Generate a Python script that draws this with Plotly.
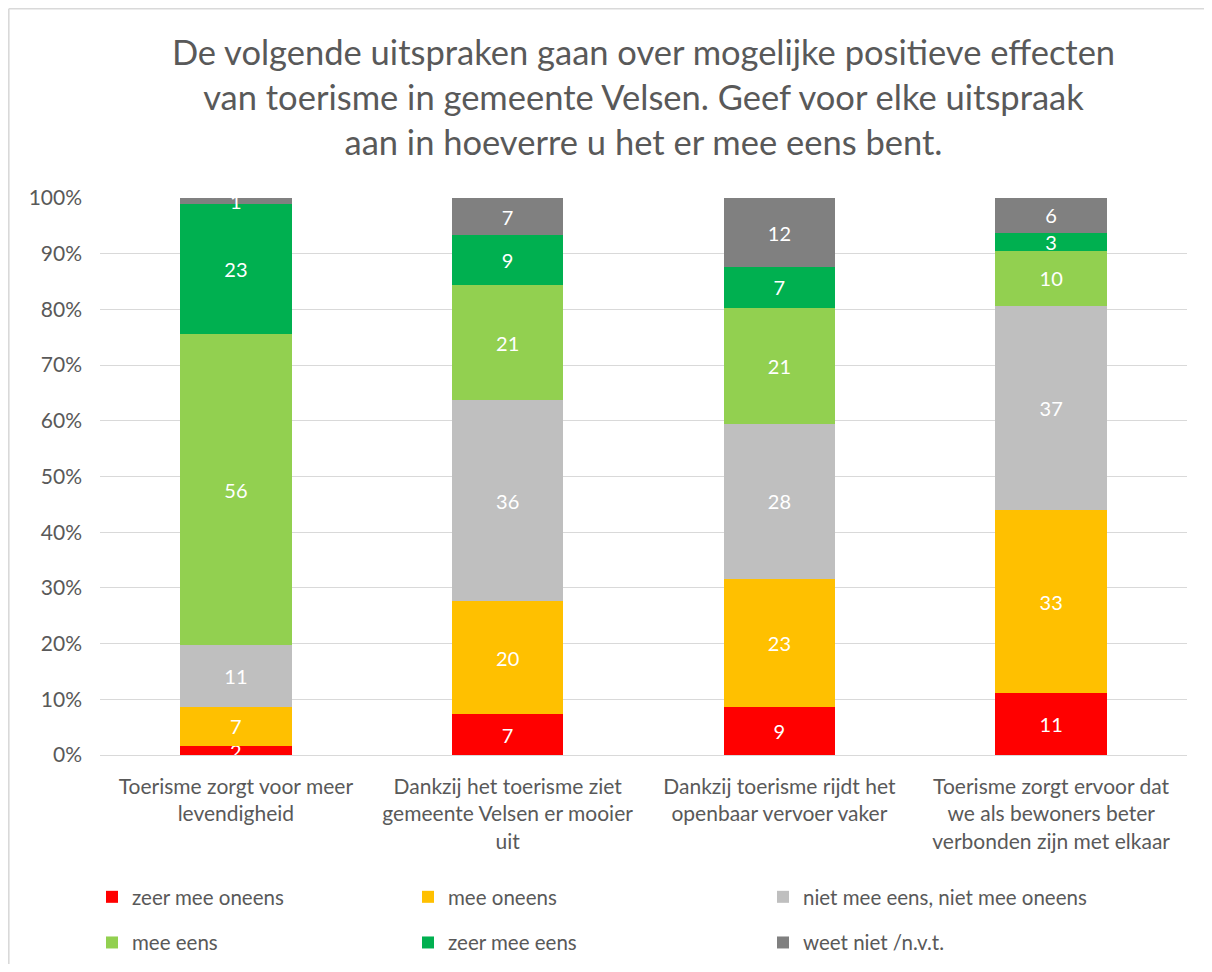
import plotly.graph_objects as go

categories = [
    "Toerisme zorgt voor meer<br>levendigheid",
    "Dankzij het toerisme ziet<br>gemeente Velsen er mooier<br>uit",
    "Dankzij toerisme rijdt het<br>openbaar vervoer vaker",
    "Toerisme zorgt ervoor dat<br>we als bewoners beter<br>verbonden zijn met elkaar",
]

series_names = [
    "zeer mee oneens",
    "mee oneens",
    "niet mee eens, niet mee oneens",
    "mee eens",
    "zeer mee eens",
    "weet niet /n.v.t.",
]

zeer_mee_oneens = [1.6, 7.3, 8.6, 11.1]
mee_oneens = [7.1, 20.3, 23.0, 32.8]
neutraal = [11.0, 36.1, 27.9, 36.7]
mee_eens = [55.9, 20.6, 20.8, 9.9]
zeer_mee_eens = [23.4, 9.0, 7.3, 3.3]
weet_niet = [1.0, 6.7, 12.4, 6.2]

values = [zeer_mee_oneens, mee_oneens, neutraal, mee_eens, zeer_mee_eens, weet_niet]
colors = ["#FF0000", "#FFC000", "#BFBFBF", "#92D050", "#00B050", "#808080"]
legend_ids = ["legend", "legend2", "legend3", "legend", "legend2", "legend3"]

FONT = "Lato"
TXT = "#595959"

fig = go.Figure()
for i, (name, vals, col) in enumerate(zip(series_names, values, colors)):
    fig.add_trace(go.Bar(
        x=categories, y=vals, name=name,
        marker=dict(color=col, line=dict(width=0)),
        texttemplate="%{y:.0f}", textposition="inside",
        insidetextanchor="middle", textangle=0,
        textfont=dict(color="white", size=20, family=FONT),
        legend=legend_ids[i], legendgroup=name,
        hoverinfo="skip",
    ))

# figure is placed at an 8px body offset in the page; keep it inside the viewport
W, H = 1196, 956
L, R, T, B = 92, 17, 190, 209
pw, ph = W - L - R, H - T - B

def px(x):
    return (x - L) / pw

def py(y):
    return (H - B - y) / ph

legend_common = dict(
    orientation="v", xanchor="left", yanchor="top",
    xref="container", yref="container",
    font=dict(family=FONT, size=20.5, color=TXT),
    bgcolor="rgba(0,0,0,0)", tracegroupgap=16, itemwidth=30,
    traceorder="grouped",
)

LEG_TOP = 1 - 869 / H
border = dict(color="#D9D9D9", width=1.6)

fig.update_layout(
    width=W, height=H,
    margin=dict(l=L, r=R, t=T, b=B, autoexpand=False),
    paper_bgcolor="white", plot_bgcolor="white",
    barmode="stack", bargap=0.59,
    uniformtext=dict(minsize=20, mode="show"),
    title=dict(
        text="De volgende uitspraken gaan over mogelijke positieve effecten<br>van toerisme in gemeente Velsen. Geef voor elke uitspraak<br>aan in hoeverre u het er mee eens bent.",
        x=0.5, xref="paper", xanchor="center",
        y=1 - 57 / H, yanchor="middle", yref="container",
        font=dict(family=FONT, size=34.5, color=TXT),
    ),
    font=dict(family=FONT, color=TXT),
    xaxis=dict(
        tickfont=dict(family=FONT, size=21, color=TXT),
        ticklabelstandoff=17,
        showline=False, ticks="", showgrid=False,
    ),
    yaxis=dict(
        range=[0, 100], tickvals=[0, 10, 20, 30, 40, 50, 60, 70, 80, 90, 100],
        ticktext=[f"{v}%" for v in range(0, 101, 10)],
        tickfont=dict(family=FONT, size=21, color=TXT),
        ticklabelstandoff=17,
        showgrid=True, gridcolor="#D9D9D9", gridwidth=1.3,
        zeroline=True, zerolinecolor="#D9D9D9", zerolinewidth=1.3,
        showline=False, ticks="", ticklen=0,
    ),
    legend=dict(legend_common, x=84 / W, y=LEG_TOP),
    legend2=dict(legend_common, x=400 / W, y=LEG_TOP),
    legend3=dict(legend_common, x=755 / W, y=LEG_TOP),
    showlegend=True,
    shapes=[
        dict(type="line", xref="paper", yref="paper",
             x0=px(0.8), x1=px(0.8), y0=py(H + 5), y1=py(0.8),
             line=border, layer="below"),
        dict(type="line", xref="paper", yref="paper",
             x0=px(0.8), x1=px(W + 5), y0=py(0.8), y1=py(0.8),
             line=border, layer="below"),
    ],
)

fig.write_html("out.html")
